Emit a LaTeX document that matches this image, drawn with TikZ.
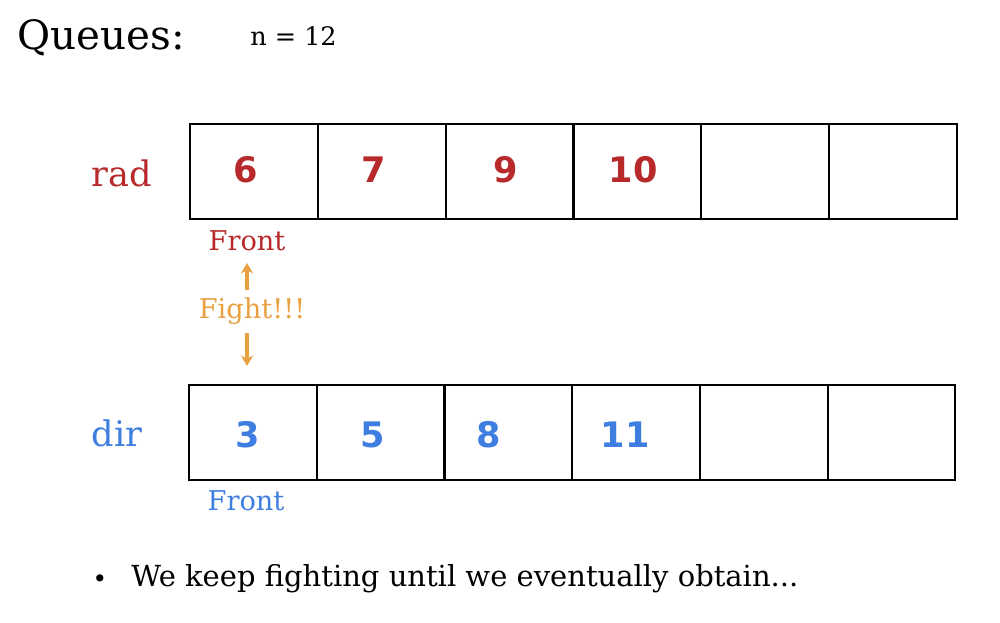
\documentclass[tikz,border=0pt]{standalone}
\usepackage{fontspec}
\setmainfont{DejaVu Serif}
\newfontfamily\digitfont{DejaVu Sans}
\usetikzlibrary{arrows.meta,calc}
\definecolor{radred}{HTML}{B8292B}
\definecolor{dirblue}{HTML}{3E7EE0}
\definecolor{fightor}{HTML}{E8A040}
\tikzset{
  cellbox/.style={draw=black, line width=1.2pt, minimum width=127.8*0.02cm, minimum height=95*0.02cm, inner sep=0pt, anchor=north west},
  radnum/.style={text=radred, font=\digitfont\bfseries\fontsize{20}{22}\selectfont},
  dirnum/.style={text=dirblue, font=\digitfont\bfseries\fontsize{20}{22}\selectfont},
  fightarrow/.style={draw=fightor, line width=1.8pt, -{Stealth[length=6pt,width=7pt]}},
}
\begin{document}
\begin{tikzpicture}[x=0.02cm,y=-0.02cm]
\useasboundingbox (0,0) rectangle (1000,622);
% title
\node[anchor=west, inner sep=0pt, font=\fontsize{23}{26}\selectfont] (title) at (17,38) {Queues:};
\node[anchor=west, inner sep=0pt, font=\fontsize{14.5}{16}\selectfont] (n) at (250,36) {n = 12};
% rad queue
\node[text=radred, font=\fontsize{20}{22}\selectfont] (radlbl) at (122,173) {rad};
\foreach \i/\v/\dx in {0/6/-8,1/7/-8,2/9/-4,3/10/-4,4//0,5//0} {
  \node[cellbox] (r\i) at (189+127.8*\i,123) {};
  \node[radnum] (rv\i) at ($(r\i.center)+(\dx,-2)$) {\v};
}
% dir queue
\node[text=dirblue, font=\fontsize{20}{22}\selectfont] (dirlbl) at (117,433) {dir};
\foreach \i/\v/\dx in {0/3/-5,1/5/-8,2/8/-20,3/11/-11,4//0,5//0} {
  \node[cellbox] (d\i) at (188+127.7*\i,384) {};
  \node[dirnum] (dv\i) at ($(d\i.center)+(\dx,2)$) {\v};
}
% front labels
\node[text=radred, font=\fontsize{15.5}{17}\selectfont] (frontr) at (247,241) {Front};
\node[text=dirblue, font=\fontsize{15.5}{17}\selectfont] (frontd) at (246,501) {Front};
\node[text=fightor, font=\fontsize{15.5}{17}\selectfont] (fight) at (252,311) {Fight!!!};
\coordinate (upend) at (247,263);
\coordinate (downend) at (247,366);
\coordinate (upstart) at (247,290);
\coordinate (downstart) at (247,333);
\draw[fightarrow] (upstart) -- (upend);
\draw[fightarrow] (downstart) -- (downend);
% bullet
\node[font=\fontsize{14}{16}\selectfont] (bul) at (100,581) {\textbullet};
\node[anchor=west, inner sep=0pt, font=\fontsize{16.5}{18}\selectfont] (note) at (131,579) {We keep fighting until we eventually obtain...};
\end{tikzpicture}
\end{document}
